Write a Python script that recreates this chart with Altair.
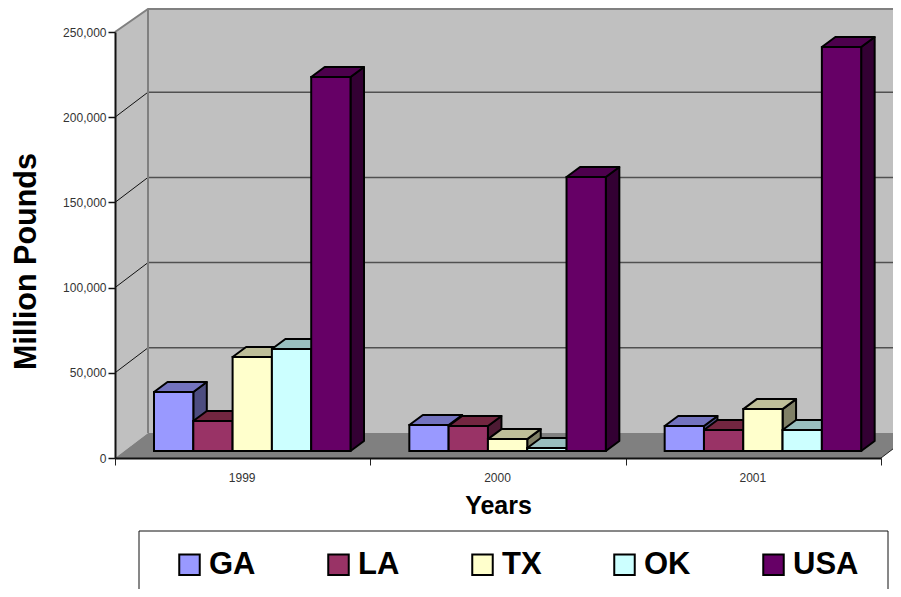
import altair as alt
import pandas as pd

years = ["1999", "2000", "2001"]
series = ["GA", "LA", "TX", "OK", "USA"]
GA = [34600, 15300, 14700]
LA = [17600, 14700, 12300]
TX = [55200, 7000, 24600]
OK = [59900, 1800, 12300]
USA = [219500, 160800, 237100]
values = [GA, LA, TX, OK, USA]

front_colors = ["#9999FF", "#993366", "#FFFFCC", "#CCFFFF", "#660066"]
top_colors = ["#7373BF", "#732640", "#BFBF99", "#99BFBF", "#4D004D"]
side_colors = ["#4D4D80", "#4D1A33", "#808066", "#668080", "#330033"]
grid_values = [50000, 100000, 150000, 200000, 250000]

PLOT_W, PLOT_H = 766, 426
YMAX = 250000
XU = 3 / PLOT_W
YU = YMAX / PLOT_H
wall_dx, wall_dy = 33 * XU, 25 * YU
wall_top = YMAX + 23 * YU
bar_dx, bar_dy = 13.5 * XU, 10 * YU
bar_start = 39 * XU
bar_w = 39.3 * XU
base = 7 * YU

x_scale = alt.Scale(domain=[0, 3], nice=False, zero=False)
y_scale = alt.Scale(domain=[0, YMAX], nice=False, zero=False)

label_list = ",".join(f"'{y}'" for y in years)
x_axis = alt.Axis(values=[0, 1, 2, 3], grid=False, zindex=1,
                  labelExpr=f"[{label_list},''][datum.value]",
                  labelOffset=PLOT_W / 6 - 1, labelFlush=False, labelOverlap=False,
                  labelFont="Liberation Sans", labelFontSize=12, labelColor="#333333",
                  labelPadding=7, labelAngle=0,
                  tickSize=7, tickColor="#222222", tickWidth=1,
                  domainColor="#111111", domainWidth=2,
                  titleFont="Liberation Sans", titleFontSize=25, titleFontWeight="bold",
                  titleColor="black", titlePadding=10)
y_axis = alt.Axis(values=[0] + grid_values, grid=False, zindex=1,
                  labelExpr="format(datum.value, ',')",
                  labelFont="Liberation Sans", labelFontSize=12, labelColor="#333333",
                  labelPadding=2, tickSize=7, tickColor="#111111", tickWidth=1.5,
                  domainColor="#111111", domainWidth=2,
                  titleFont="Liberation Sans", titleFontSize=30.5, titleFontWeight="bold",
                  titleColor="black", titleX=-74, titleY=229)

X = lambda f: alt.X(f"{f}:Q", scale=x_scale, title="Years", axis=x_axis)
Y = lambda f: alt.Y(f"{f}:Q", scale=y_scale, title="Million Pounds", axis=y_axis, stack=None)

# ---- walls and floor
left_wall = pd.DataFrame({"x": [0, wall_dx], "y": [0, wall_dy], "y2": [YMAX, wall_top]})
walls = alt.Chart(left_wall).mark_area(fill="#C0C0C0", orient="vertical").encode(
    x=X("x"), y=Y("y"), y2="y2:Q")
back_wall = alt.Chart(pd.DataFrame({"x": [wall_dx], "x2": [3 + wall_dx], "y": [wall_dy], "y2": [wall_top]})
                      ).mark_rect(fill="#C0C0C0").encode(
    x=X("x"), x2="x2:Q", y=Y("y"), y2="y2:Q")
floor = alt.Chart(pd.DataFrame({"y": [0, wall_dy], "x": [0, wall_dx], "x2": [3, 3 + wall_dx]})
                  ).mark_area(fill="#808080", orient="horizontal").encode(
    y=Y("y"), x=X("x"), x2="x2:Q")

# gridlines on both walls
back_grid = alt.Chart(pd.DataFrame({
    "x": [wall_dx] * 4, "x2": [3 + wall_dx] * 4, "y": [v + wall_dy for v in grid_values[:-1]]
})).mark_rule(color="#505050", strokeWidth=1.5).encode(x=X("x"), x2="x2:Q", y=Y("y"))

side_rows = []
for v in grid_values[:-1]:
    side_rows += [{"v": v, "x": 0, "y": v}, {"v": v, "x": wall_dx, "y": v + wall_dy}]
left_grid = alt.Chart(pd.DataFrame(side_rows)).mark_line(color="#111111", strokeWidth=1).encode(
    x=X("x"), y=Y("y"), detail="v:N")

edge_top = alt.Chart(pd.DataFrame({"x": [0, wall_dx, 3 + wall_dx], "y": [YMAX, wall_top, wall_top]})
                     ).mark_line(color="#808080", strokeWidth=2).encode(x=X("x"), y=Y("y"))
edge_back = alt.Chart(pd.DataFrame({"x": [wall_dx, wall_dx], "y": [wall_dy, wall_top]})
                      ).mark_line(color="#808080", strokeWidth=2).encode(x=X("x"), y=Y("y"), order="y:Q")
edge_right = alt.Chart(pd.DataFrame({"x": [3, 3 + wall_dx], "y": [0, wall_dy]})
                       ).mark_line(color="#222222", strokeWidth=1).encode(x=X("x"), y=Y("y"))

# ---- legend frame
legend_box = alt.Chart(pd.DataFrame({"a": [0]})).mark_rect(
    fill="white", stroke="#111111", strokeWidth=1
).encode(x=alt.value(24), x2=alt.value(773), y=alt.value(499), y2=alt.value(600))

# ---- bars: side, top, front for every bar, left to right
bar_layers = []
for k, (name, vals) in enumerate(zip(series, values)):
    side_r, top_r, front_r = [], [], []
    for i, v in enumerate(vals):
        x0 = i + bar_start + k * bar_w
        x1 = x0 + bar_w
        t = base + v
        side_r += [{"g": i, "x": x1, "y": base, "y2": t},
                   {"g": i, "x": x1 + bar_dx, "y": base + bar_dy, "y2": t + bar_dy}]
        top_r += [{"g": i, "y": t, "x": x0, "x2": x1},
                  {"g": i, "y": t + bar_dy, "x": x0 + bar_dx, "x2": x1 + bar_dx}]
        front_r.append({"series": name, "x": x0, "x2": x1, "y": t, "y2": base})
    side = alt.Chart(pd.DataFrame(side_r)).mark_area(
        fill=side_colors[k], stroke="black", strokeWidth=2, orient="vertical", strokeJoin="round"
    ).encode(x=X("x"), y=Y("y"), y2="y2:Q", detail="g:N")
    top = alt.Chart(pd.DataFrame(top_r)).mark_area(
        fill=top_colors[k], stroke="black", strokeWidth=2, orient="horizontal", strokeJoin="round"
    ).encode(y=Y("y"), x=X("x"), x2="x2:Q", detail="g:N")
    front = alt.Chart(pd.DataFrame(front_r)).mark_rect(stroke="black", strokeWidth=2).encode(
        x=X("x"), x2="x2:Q", y=Y("y"), y2="y2:Q",
        fill=alt.Fill("series:N",
                      scale=alt.Scale(domain=series, range=front_colors),
                      legend=alt.Legend(
                          orient="none", legendX=59, legendY=517, direction="horizontal",
                          columns=5, title=None, symbolType="square", symbolSize=420,
                          symbolStrokeColor="black", symbolStrokeWidth=2, symbolOpacity=1,
                          labelFont="Liberation Sans", labelFontSize=31, labelFontWeight="bold",
                          labelColor="black", labelOffset=4, columnPadding=67, labelLimit=200,
                          padding=0)),
    )
    bar_layers += [side, top, front]

chart = alt.layer(
    back_wall, walls, floor, back_grid, left_grid, edge_top, edge_back, edge_right, legend_box,
    *bar_layers
).properties(
    width=PLOT_W, height=PLOT_H,
    autosize=alt.AutoSizeParams(type="none"),
    padding={"left": 107, "top": 24, "right": 12, "bottom": 131},
).configure_view(stroke=None).configure(background="white")

chart.save("out.html", embed_options={"renderer": "svg", "actions": False})
